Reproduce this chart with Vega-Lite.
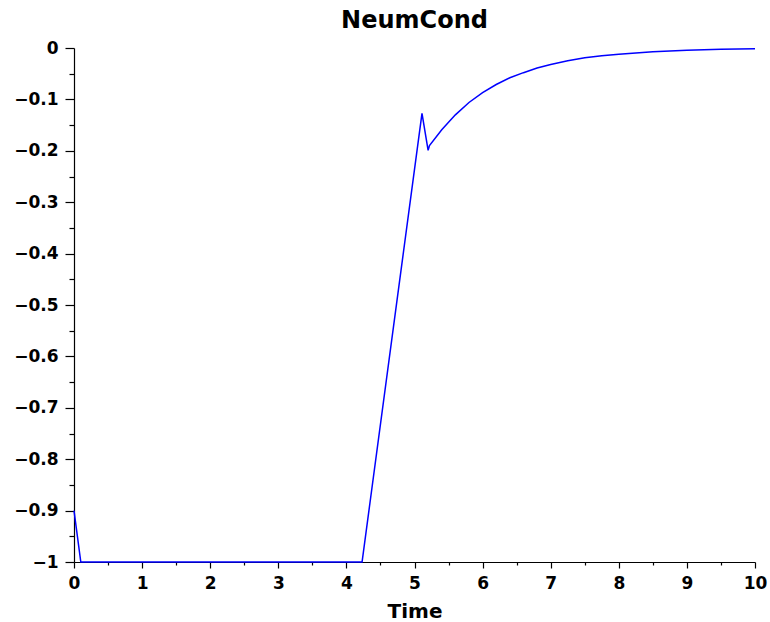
{
  "$schema": "https://vega.github.io/schema/vega-lite/v6.json",
  "width": 681,
  "height": 514,
  "autosize": {"type": "none"},
  "padding": {"left": 74, "top": 48, "right": 15, "bottom": 60},
  "background": "white",
  "title": {
    "text": "NeumCond",
    "font": "DejaVu Sans",
    "fontSize": 24,
    "fontWeight": "bold",
    "color": "black",
    "frame": "group",
    "anchor": "middle",
    "offset": 6
  },
  "config": {
    "view": {"stroke": null},
    "axis": {
      "labelFont": "DejaVu Sans",
      "labelFontWeight": "bold",
      "labelFontSize": 17,
      "labelColor": "black",
      "titleFont": "DejaVu Sans",
      "titleFontWeight": "bold",
      "titleFontSize": 20,
      "titleColor": "black",
      "domainColor": "black",
      "domainWidth": 1.2,
      "tickColor": "black",
      "tickWidth": 1.2,
      "grid": false
    }
  },
  "data": {
    "values": [
      {"t": 0, "v": -0.9},
      {"t": 0.1, "v": -1},
      {"t": 4.23, "v": -1},
      {"t": 5.11, "v": -0.127},
      {"t": 5.2, "v": -0.199},
      {"t": 5.22, "v": -0.19},
      {"t": 5.4, "v": -0.159},
      {"t": 5.6, "v": -0.13},
      {"t": 5.8, "v": -0.106},
      {"t": 6.0, "v": -0.087},
      {"t": 6.2, "v": -0.071},
      {"t": 6.4, "v": -0.058},
      {"t": 6.6, "v": -0.048},
      {"t": 6.8, "v": -0.039},
      {"t": 7.0, "v": -0.032},
      {"t": 7.25, "v": -0.025},
      {"t": 7.5, "v": -0.019},
      {"t": 7.75, "v": -0.015},
      {"t": 8.0, "v": -0.012},
      {"t": 8.5, "v": -0.0071},
      {"t": 9.0, "v": -0.0043},
      {"t": 9.5, "v": -0.0026},
      {"t": 10.0, "v": -0.0016}
    ]
  },
  "mark": {"type": "line", "color": "#0000ff", "strokeWidth": 1.5, "interpolate": "linear"},
  "encoding": {
    "x": {
      "field": "t",
      "type": "quantitative",
      "scale": {"domain": [0, 10], "nice": false, "zero": false},
      "axis": {
        "title": "Time",
        "values": [0, 0.5, 1, 1.5, 2, 2.5, 3, 3.5, 4, 4.5, 5, 5.5, 6, 6.5, 7, 7.5, 8, 8.5, 9, 9.5, 10],
        "labelExpr": "round(datum.value) == datum.value ? format(datum.value, 'd') : ''",
        "tickSize": {"condition": {"test": "round(datum.value) != datum.value", "value": 3}, "value": 6},
        "labelPadding": 7,
        "labelFlush": false,
        "titleY": 55,
        "titleBaseline": "alphabetic"
      }
    },
    "y": {
      "field": "v",
      "type": "quantitative",
      "scale": {"domain": [-1, 0], "nice": false, "zero": false},
      "axis": {
        "title": null,
        "values": [-1, -0.95, -0.9, -0.85, -0.8, -0.75, -0.7, -0.65, -0.6, -0.55, -0.5, -0.45, -0.4, -0.35, -0.3, -0.25, -0.2, -0.15, -0.1, -0.05, 0],
        "labelExpr": "abs(round(datum.value * 10) - datum.value * 10) > 0.01 ? '' : format(datum.value, '~g')",
        "tickSize": {"condition": {"test": "abs(round(datum.value * 10) - datum.value * 10) > 0.01", "value": 5}, "value": 9},
        "labelPadding": 7,
        "labelFlush": false
      }
    }
  }
}
